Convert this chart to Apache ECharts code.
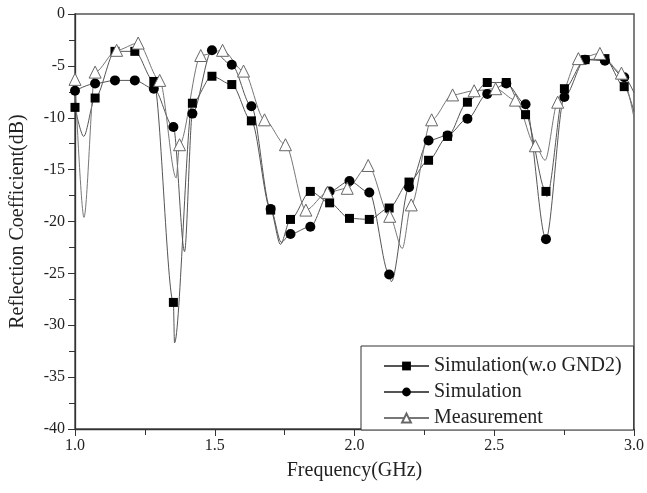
<!DOCTYPE html>
<html>
<head>
<meta charset="utf-8">
<script src="https://cdn.jsdelivr.net/npm/echarts@6/dist/echarts.min.js"></script>
<style>
  html, body { margin: 0; padding: 0; background: #fff; }
  #chart { width: 647px; height: 493px; }
</style>
</head>
<body>
<div id="chart"></div>
<script>
// Marker frequencies (GHz) shared by the two simulated curves
const simFreq = [1.0, 1.072, 1.143, 1.214, 1.282, 1.352, 1.42, 1.49, 1.561, 1.631, 1.70, 1.771, 1.842, 1.911, 1.982, 2.053, 2.124, 2.195, 2.265, 2.333, 2.404, 2.475, 2.543, 2.612, 2.685, 2.751, 2.825, 2.896, 2.965];

// Simulation without GND2 (square markers), dB
const simNoGndVals = [-9.0, -8.1, -3.6, -3.6, -6.5, -27.8, -8.6, -6.0, -6.8, -10.3, -18.9, -19.8, -17.1, -18.2, -19.7, -19.8, -18.7, -16.2, -14.1, -11.8, -8.5, -6.6, -6.6, -9.7, -17.1, -7.2, -4.4, -4.3, -7.0];
// Curve points between markers (resonance minima, end of sweep)
const simNoGndExtraFreq = [1.031, 1.356, 1.735, 2.688, 3.0];
const simNoGndExtraVals = [-11.8, -31.7, -22.2, -17.6, -9.4];

// Simulation (circle markers), dB
const simVals = [-7.4, -6.7, -6.4, -6.4, -7.2, -10.9, -9.6, -3.5, -4.9, -8.9, -18.8, -21.2, -20.5, -17.1, -16.1, -17.2, -25.1, -16.7, -12.2, -11.7, -10.1, -7.7, -6.7, -8.7, -21.7, -8.0, -4.4, -4.5, -6.1];
const simExtraFreq = [1.392, 1.738, 2.132, 3.0];
const simExtraVals = [-22.9, -22.0, -25.8, -7.6];

// Measurement (triangle markers)
const measFreq = [1.0, 1.072, 1.149, 1.226, 1.303, 1.374, 1.45, 1.528, 1.603, 1.678, 1.753, 1.826, 1.903, 1.974, 2.049, 2.126, 2.203, 2.276, 2.351, 2.428, 2.505, 2.576, 2.647, 2.727, 2.801, 2.878, 2.955];
const measVals = [-6.3, -5.6, -3.5, -2.8, -6.4, -12.6, -4.0, -3.5, -5.5, -10.2, -12.6, -18.9, -17.2, -16.8, -14.6, -19.5, -18.4, -10.2, -7.8, -7.4, -7.2, -8.3, -12.7, -8.5, -4.3, -3.8, -5.7];
const measExtraFreq = [1.032, 1.362, 2.171, 2.682, 3.0];
const measExtraVals = [-19.6, -15.8, -22.6, -14.1, -10.0];

// Axis ticks
const xTicks = [1.0, 1.5, 2.0, 2.5, 3.0];
const yTicks = [0, -5, -10, -15, -20, -25, -30, -35, -40];

const seriesNames = ['Simulation(w.o GND2)', 'Simulation', 'Measurement'];

// Merge marked points and unmarked curve points into one sorted line
function buildLine(fx, fy, ex, ey) {
  const pts = fx.map((x, i) => ({ value: [x, fy[i]] }));
  ex.forEach((x, i) => pts.push({ value: [x, ey[i]], symbol: 'none' }));
  pts.sort((a, b) => a.value[0] - b.value[0]);
  return pts;
}

const serif = '"Liberation Serif", "Times New Roman", serif';
const chart = echarts.init(document.getElementById('chart'), null, { renderer: 'canvas' });

const lineBase = {
  type: 'line',
  smooth: 0.3,
  smoothMonotone: 'x',
  showAllSymbol: true,
  animation: false
};

chart.setOption({
  animation: false,
  backgroundColor: '#fff',
  grid: {
    left: 73, right: 11, top: 14, bottom: 64,
    show: true, borderColor: '#555', borderWidth: 1.5, backgroundColor: 'transparent'
  },
  legend: {
    orient: 'vertical',
    left: 361, top: 346,
    width: 275,
    padding: [10, 12, 2, 22],
    itemGap: 6,
    itemWidth: 45,
    itemHeight: 11,
    backgroundColor: '#fff',
    borderColor: '#333',
    borderWidth: 1,
    borderRadius: 0,
    textStyle: { fontFamily: serif, fontSize: 20, color: '#222', lineHeight: 20 },
    data: seriesNames
  },
  xAxis: {
    type: 'value',
    min: 1.0, max: 3.0, interval: 0.5,
    name: 'Frequency(GHz)',
    nameLocation: 'middle',
    nameGap: 32,
    nameTextStyle: { fontFamily: serif, fontSize: 20, color: '#222' },
    axisLine: { show: true, onZero: false, lineStyle: { color: '#333', width: 1.3 } },
    axisTick: { show: true, inside: false, length: 7, lineStyle: { color: '#333' } },
    minorTick: { show: true, splitNumber: 2, length: 6, lineStyle: { color: '#333' } },
    splitLine: { show: false },
    axisLabel: {
      fontFamily: serif, fontSize: 16, color: '#222', margin: 9,
      formatter: v => xTicks.includes(v) ? v.toFixed(1) : ''
    }
  },
  yAxis: {
    type: 'value',
    min: -40, max: 0, interval: 5,
    name: 'Reflection Coefficient(dB)',
    nameLocation: 'middle',
    nameGap: 47,
    nameTextStyle: { fontFamily: serif, fontSize: 20, color: '#222' },
    axisLine: { show: true, onZero: false, lineStyle: { color: '#333', width: 1.3 } },
    axisTick: { show: true, inside: false, length: 7, lineStyle: { color: '#333' } },
    minorTick: { show: true, splitNumber: 2, length: 6, lineStyle: { color: '#333' } },
    splitLine: { show: false },
    axisLabel: {
      fontFamily: serif, fontSize: 16, color: '#222', margin: 10,
      formatter: v => yTicks.includes(v) ? String(v) : ''
    }
  },
  series: [
    Object.assign({}, lineBase, {
      name: seriesNames[0],
      symbol: 'rect', symbolSize: 9,
      lineStyle: { color: '#555', width: 1 },
      itemStyle: { color: '#000', borderColor: '#000', borderWidth: 0 },
      data: buildLine(simFreq, simNoGndVals, simNoGndExtraFreq, simNoGndExtraVals)
    }),
    Object.assign({}, lineBase, {
      name: seriesNames[1],
      symbol: 'circle', symbolSize: 10,
      lineStyle: { color: '#555', width: 1 },
      itemStyle: { color: '#000', borderColor: '#000', borderWidth: 0 },
      data: buildLine(simFreq, simVals, simExtraFreq, simExtraVals)
    }),
    Object.assign({}, lineBase, {
      name: seriesNames[2],
      symbol: 'triangle', symbolSize: 12,
      lineStyle: { color: '#777', width: 1 },
      itemStyle: { color: '#fff', borderColor: '#666', borderWidth: 1 },
      data: buildLine(measFreq, measVals, measExtraFreq, measExtraVals)
    })
  ]
});
</script>
</body>
</html>
